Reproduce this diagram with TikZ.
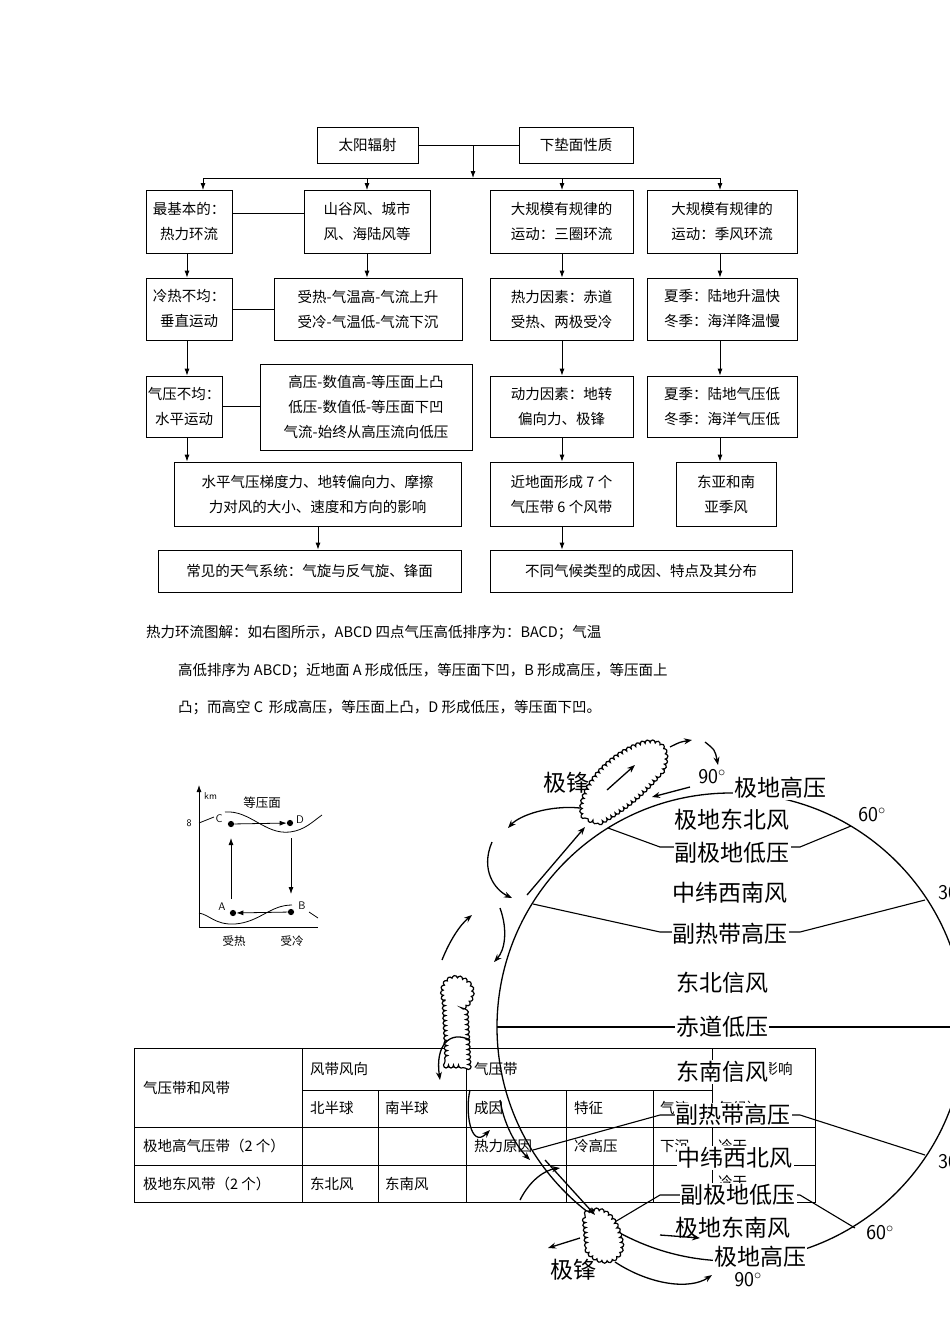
\documentclass[tikz,border=0pt]{standalone}
\usepackage{fontspec}
\setmainfont{Liberation Serif}
\newfontfamily\cjk{Noto Sans CJK SC}
\usetikzlibrary{arrows.meta,decorations.pathmorphing}
\tikzset{
 fbox/.style={draw,line width=0.8pt,align=center,font=\fontsize{14.5}{25}\selectfont\cjk,inner sep=0pt},
 arr/.style={-{Latex[length=7pt,width=5pt]},line width=0.8pt},
 ln/.style={line width=0.8pt},
 glab/.style={font=\fontsize{23}{25}\selectfont\cjk,fill=white,inner sep=1pt},
 gdeg/.style={font=\fontsize{21}{23}\selectfont\sffamily,inner sep=1pt},
 tt/.style={font=\fontsize{14.5}{16}\selectfont\cjk,anchor=west,inner sep=0pt},
 warr/.style={-{Stealth[length=8pt,width=6pt]},line width=1.3pt},
 cloud/.style={draw,line width=1.2pt,fill=white,decorate,decoration={bumps,amplitude=3pt,segment length=10pt}},
}
\begin{document}
\begin{tikzpicture}[x=1pt,y=-1pt]
\useasboundingbox (0,0) rectangle (950,1344);
\fill[white] (0,0) rectangle (950,1344);
% ---------- flowchart ----------
\node[fbox,minimum width=101pt,minimum height=36pt] (sun) at (367.5,145) {太阳辐射};
\node[fbox,minimum width=114pt,minimum height=36pt] (sur) at (576,145) {下垫面性质};
\draw[ln] (sun.east) -- (sur.west);
\coordinate (bus) at (473,178);
\draw[arr] (473,145) -- (bus);
\draw[ln] (203,178) -- (720,178);
\node[fbox,minimum width=86pt,minimum height=63pt] (a1) at (189,221.5) {最基本的：\\热力环流};
\node[fbox,minimum width=126pt,minimum height=63pt] (b1) at (367,221.5) {山谷风、城市\\风、海陆风等};
\node[fbox,minimum width=143pt,minimum height=63pt] (c1) at (561.5,221.5) {大规模有规律的\\运动：三圈环流};
\node[fbox,minimum width=150pt,minimum height=63pt] (d1) at (722,221.5) {大规模有规律的\\运动：季风环流};
\foreach \x/\n in {203/a1,367/b1,562/c1,720/d1}{\draw[arr] (\x,178) -- (\x,190);}
\draw[ln] (a1.east |- 0,213) -- (b1.west |- 0,213);
\node[fbox,minimum width=86pt,minimum height=62pt] (a2) at (189,309) {冷热不均：\\垂直运动};
\node[fbox,minimum width=188pt,minimum height=62pt] (b2) at (368,309) {受热-气温高-气流上升\\受冷-气温低-气流下沉};
\node[fbox,minimum width=143pt,minimum height=62pt] (c2) at (561.5,309) {热力因素：赤道\\受热、两极受冷};
\node[fbox,minimum width=150pt,minimum height=62pt] (d2) at (722,309) {夏季：陆地升温快\\冬季：海洋降温慢};
\draw[ln] (a2.east) -- (b2.west);
\draw[arr] (a1.south -| 187,0) -- (a2.north -| 187,0);
\draw[arr] (b1.south) -- (b2.north -| b1.south);
\draw[arr] (c1.south -| 562,0) -- (c2.north -| 562,0);
\draw[arr] (d1.south -| 720,0) -- (d2.north -| 720,0);
\node[fbox,minimum width=76pt,minimum height=61pt] (a3) at (184,406.5) {气压不均：\\水平运动};
\node[fbox,minimum width=212pt,minimum height=86pt] (b3) at (366,407) {高压-数值高-等压面上凸\\低压-数值低-等压面下凹\\气流-始终从高压流向低压};
\node[fbox,minimum width=143pt,minimum height=61pt] (c3) at (561.5,406.5) {动力因素：地转\\偏向力、极锋};
\node[fbox,minimum width=150pt,minimum height=61pt] (d3) at (722,406.5) {夏季：陆地气压低\\冬季：海洋气压低};
\draw[ln] (a3.east) -- (b3.west |- a3.east);
\draw[arr] (a2.south -| 187,0) -- (a3.north -| 187,0);
\draw[arr] (c2.south -| 562,0) -- (c3.north -| 562,0);
\draw[arr] (d2.south -| 720,0) -- (d3.north -| 720,0);
\node[fbox,minimum width=287pt,minimum height=64pt] (a4) at (317.5,494) {水平气压梯度力、地转偏向力、摩擦\\力对风的大小、速度和方向的影响};
\node[fbox,minimum width=143pt,minimum height=64pt] (c4) at (561.5,494) {近地面形成 7 个\\气压带 6 个风带};
\node[fbox,minimum width=100pt,minimum height=64pt] (d4) at (726,494) {东亚和南\\亚季风};
\draw[arr] (a3.south -| 187,0) -- (a4.north -| 187,0);
\draw[arr] (c3.south -| 562,0) -- (c4.north -| 562,0);
\draw[arr] (d3.south -| 720,0) -- (d4.north -| 720,0);
\node[fbox,minimum width=303pt,minimum height=42pt] (a5) at (309.5,571) {常见的天气系统：气旋与反气旋、锋面};
\node[fbox,minimum width=302pt,minimum height=42pt] (c5) at (641,571) {不同气候类型的成因、特点及其分布};
\draw[arr] (a4.south -| 318,0) -- (a5.north -| 318,0);
\draw[arr] (c4.south -| 562,0) -- (c5.north -| 562,0);
% ---------- paragraph ----------
\node[tt] (p1) at (146,633) {热力环流图解：如右图所示，ABCD 四点气压高低排序为：BACD；气温};
\node[tt] (p2) at (178,671) {高低排序为 ABCD；近地面 A 形成低压，等压面下凹，B 形成高压，等压面上};
\node[tt] (p3) at (178,708) {凸；而高空 C\, 形成高压，等压面上凸，D 形成低压，等压面下凹。};
% ---------- small diagram ----------
\coordinate (o) at (199,927);
\draw[arr] (o) -- (199,785);
\draw[ln] (o) -- (318,927);
\node[font=\sffamily\fontsize{10}{10}\selectfont,anchor=west,inner sep=0] (km) at (204,796) {km};
\node[font=\sffamily\fontsize{10}{10}\selectfont,inner sep=0] (e8) at (189,823) {8};
\node[font=\fontsize{12.5}{13}\selectfont\cjk,inner sep=0] (dy) at (262,803) {等压面};
\draw[ln] (199,823) -- (214,817);
\draw[ln] (225,812) .. controls (250,810) and (265,835) .. (290,832) .. controls (305,830) and (312,822) .. (322,815);
\draw[ln] (199,913) .. controls (210,915) and (215,925) .. (235,924) .. controls (260,922) and (270,905) .. (292,905) ;
\draw[ln] (309,912) -- (318,918);
\node[circle,fill,inner sep=2.2pt] (C) at (231,824) {};
\node[circle,fill,inner sep=2.2pt] (D) at (290,823) {};
\node[circle,fill,inner sep=2.2pt] (A) at (233,913) {};
\node[circle,fill,inner sep=2.2pt] (B) at (291,912) {};
\node[font=\sffamily\fontsize{11}{11}\selectfont,inner sep=0] at (219,819) {C};
\node[font=\sffamily\fontsize{11}{11}\selectfont,inner sep=0] at (300,820) {D};
\node[font=\sffamily\fontsize{11}{11}\selectfont,inner sep=0] at (222,907) {A};
\node[font=\sffamily\fontsize{11}{11}\selectfont,inner sep=0] at (302,906) {B};
\draw[arr] (C) -- (D);
\draw[arr] (B) -- (A);
\draw[arr] (A) ++(-2,-14) -- (231,838);
\draw[arr] (291,838) -- (291,894);
\node[font=\fontsize{11.5}{12}\selectfont\cjk,inner sep=0] at (234,941) {受热};
\node[font=\fontsize{11.5}{12}\selectfont\cjk,inner sep=0] at (292,941) {受冷};
% ---------- table ----------
\begin{scope}[line width=0.8pt]
\draw (134,1048) rectangle (815,1202);
\draw (302,1090) -- (712,1090);
\draw (134,1127) -- (815,1127);
\draw (134,1165) -- (815,1165);
\draw (302,1048) -- (302,1202);
\draw (378,1090) -- (378,1202);
\draw (466,1048) -- (466,1202);
\draw (566,1090) -- (566,1202);
\draw (653,1090) -- (653,1202);
\draw (712,1048) -- (712,1202);
\end{scope}
\node[tt] (t0) at (143,1088) {气压带和风带};
\node[tt] (t1) at (310,1069) {风带风向};
\node[tt] (t2) at (474,1069) {气压带};
\node[tt] (t3) at (720,1069) {对气候影响};
\node[tt] at (310,1108) {北半球};
\node[tt] at (385,1108) {南半球};
\node[tt] at (474,1108) {成因};
\node[tt] at (574,1108) {特征};
\node[tt] at (660,1108) {气流};
\node[tt] at (718,1108) {气候）};
\node[tt] at (143,1146) {极地高气压带（2 个）};
\node[tt] at (474,1146) {热力原因};
\node[tt] at (574,1146) {冷高压};
\node[tt] at (660,1146) {下沉};
\node[tt] at (718,1146) {冷干};
\node[tt] at (143,1184) {极地东风带（2 个）};
\node[tt] at (310,1184) {东北风};
\node[tt] at (385,1184) {东南风};
\node[tt] at (718,1182) {冷干};
% ---------- globe ----------
\begin{scope}
\clip (0,0) rectangle (950,1344);
\draw[line width=1.3pt] (731,1027) circle (234);
\draw[line width=1.1pt] (497,1027) -- (960,1027);
\draw[line width=1.1pt] (608,828) -- (660,847) -- (800,847) -- (851,826);
\draw[line width=1.1pt] (533,904) -- (660,932) -- (800,932) -- (925,900);
\draw[line width=1.1pt] (533,1150) -- (660,1115) -- (800,1115) -- (925,1155);
\draw[line width=1.1pt] (608,1226) -- (660,1195) -- (800,1195) -- (855,1228);
\node[glab] at (780,788) {极地高压};
\node[glab] at (732,820) {极地东北风};
\node[glab] at (732,853) {副极地低压};
\node[glab] at (730,893) {中纬西南风};
\node[glab] at (730,934) {副热带高压};
\node[glab] at (722,983) {东北信风};
\node[glab] at (722,1027) {赤道低压};
\node[glab] at (722,1072) {东南信风};
\node[glab] at (733,1115) {副热带高压};
\node[glab] at (735,1158) {中纬西北风};
\node[glab] at (738,1195) {副极地低压};
\node[glab] at (733,1228) {极地东南风};
\node[glab] at (760,1257) {极地高压};
\node[gdeg] at (712,777) {90$^\circ$};
\node[gdeg] at (872,815) {60$^\circ$};
\node[gdeg] at (948,893) {30};
\node[gdeg] at (948,1162) {30};
\node[gdeg] at (880,1233) {60$^\circ$};
\node[gdeg] at (748,1280) {90$^\circ$};
\end{scope}
\node[glab,fill=none] at (566,783) {极锋};
\node[glab,fill=none] at (573,1270) {极锋};
% clouds
\draw[cloud] (585,818) .. controls (575,800) and (600,760) .. (640,745) .. controls (660,738) and (670,750) .. (662,770) .. controls (645,790) and (630,805) .. (600,822) -- cycle;
\draw[cloud] (445,1000) .. controls (440,985) and (450,975) .. (462,980) .. controls (475,985) and (472,1000) .. (465,1005) -- (468,1065) -- (448,1065) -- cycle;
\draw[cloud] (585,1215) .. controls (600,1205) and (615,1215) .. (620,1240) .. controls (625,1260) and (600,1268) .. (588,1250) -- cycle;
% circulation arrows
\draw[warr] (527,895) -- (585,827);
\draw[warr] (607,790) -- (635,765);
\draw[warr] (670,747) .. controls (680,742) .. (692,740);
\draw[warr] (705,742) .. controls (715,750) .. (718,765);
\draw[warr] (690,787) -- (652,797);
\draw[warr] (580,808) .. controls (550,805) and (520,815) .. (508,828);
\draw[warr] (492,842) .. controls (480,870) and (495,890) .. (512,898);
\draw[warr] (500,908) .. controls (508,930) and (505,950) .. (494,962);
\draw[warr] (442,960) .. controls (450,940) and (460,925) .. (472,915);
\draw[warr] (470,1040) .. controls (450,1030) and (435,1045) .. (440,1080);
\draw[warr] (500,1100) .. controls (505,1130) and (520,1150) .. (530,1160);
\draw[warr] (520,1200) .. controls (530,1180) and (545,1170) .. (560,1168);
\draw[warr] (470,1090) .. controls (465,1110) and (470,1150) .. (490,1130);
\draw[warr] (545,1160) -- (595,1215);
\draw[warr] (580,1238) -- (548,1248);
\draw[warr] (615,1262) .. controls (650,1285) and (690,1290) .. (712,1275);
\draw[warr] (660,1235) -- (700,1238);
\end{tikzpicture}
\end{document}
